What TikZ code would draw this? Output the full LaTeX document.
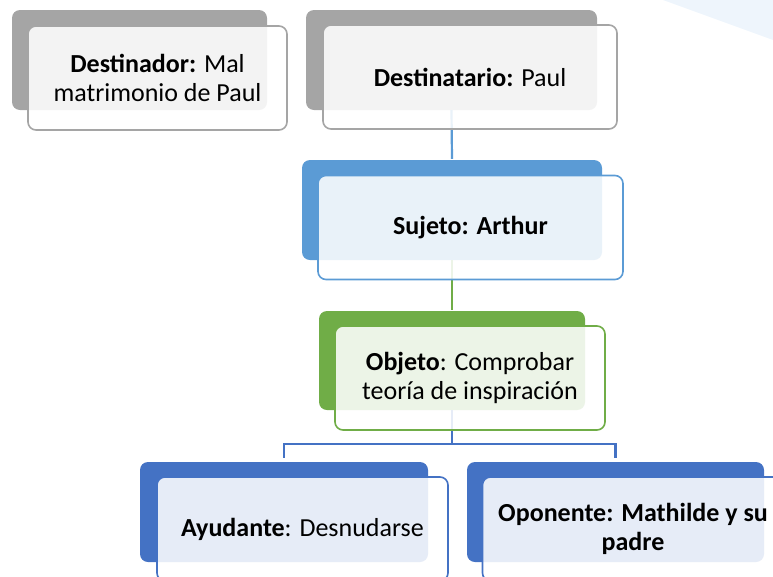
\documentclass[tikz,border=0pt]{standalone}
\usepackage{fontspec}
\setmainfont{Carlito}
\definecolor{cgray}{HTML}{A5A5A5}
\definecolor{cblueA}{HTML}{5B9BD5}
\definecolor{cgreen}{HTML}{70AD47}
\definecolor{cblueB}{HTML}{4472C4}
\definecolor{cpale}{HTML}{EEF5FC}
\begin{document}
\begin{tikzpicture}[x=1pt,y=-1pt,
  backbox/.style={rectangle, rounded corners=8pt, fill=#1, draw=none, inner sep=0pt, minimum height=100pt},
  frontbox/.style={rectangle, rounded corners=8pt, draw=#1, line width=1.6pt, fill=white, fill opacity=0.87, text opacity=1, inner sep=0pt, minimum height=104pt, align=center, font=\fontsize{26}{29}\selectfont},
  link/.style={line width=2.2pt, draw=#1}]
\useasboundingbox (0,0) rectangle (773,576);
\fill[cpale] (663,0) -- (773,0) -- (773,40) -- cycle;
% back boxes
\node[backbox=cgray, minimum width=255pt] (dstrB) at (139.5,60) {};
\node[backbox=cgray, minimum width=291pt] (dstaB) at (451.5,60) {};
\node[backbox=cblueA, minimum width=300pt] (sujB) at (452,210) {};
\node[backbox=cgreen, minimum width=266pt, minimum height=99pt] (objB) at (452,360.5) {};
\node[backbox=cblueB, minimum width=288pt] (ayuB) at (284,512) {};
\node[backbox=cblueB, minimum width=297pt] (opoB) at (615.5,512) {};
% connectors
\draw[link=cblueA, shorten >=1pt] (dstaB.south) -- (sujB.north);
\draw[link=cgreen, shorten >=1pt] (sujB.south) -- (objB.north);
\coordinate (fork) at (452,444);
\draw[link=cblueB] (objB.south) -- (fork);
\draw[link=cblueB, shorten >=4pt] (fork) -| (ayuB.north);
\draw[link=cblueB, shorten >=4pt] (fork) -| (opoB.north);
% front boxes
\node[frontbox=cgray, minimum width=259pt] (dstrF) at (157.5,78) {\textbf{Destinador:} Mal\\matrimonio de Paul};
\node[frontbox=cgray, minimum width=294pt] (dstaF) at (470,77) {\textbf{Destinatario:} Paul};
\node[frontbox=cblueA, minimum width=305pt] (sujF) at (470.5,227.5) {\textbf{Sujeto: Arthur}};
\node[frontbox=cgreen, minimum width=270pt] (objF) at (470,378) {\textbf{Objeto}: Comprobar\\teoría de inspiración};
\node[frontbox=cblueB, minimum width=291pt] (ayuF) at (302.5,529) {\textbf{Ayudante}: Desnudarse};
\node[frontbox=cblueB, minimum width=301pt] (opoF) at (633,529) {\textbf{Oponente: Mathilde y su}\\\textbf{padre}};
\end{tikzpicture}
\end{document}
